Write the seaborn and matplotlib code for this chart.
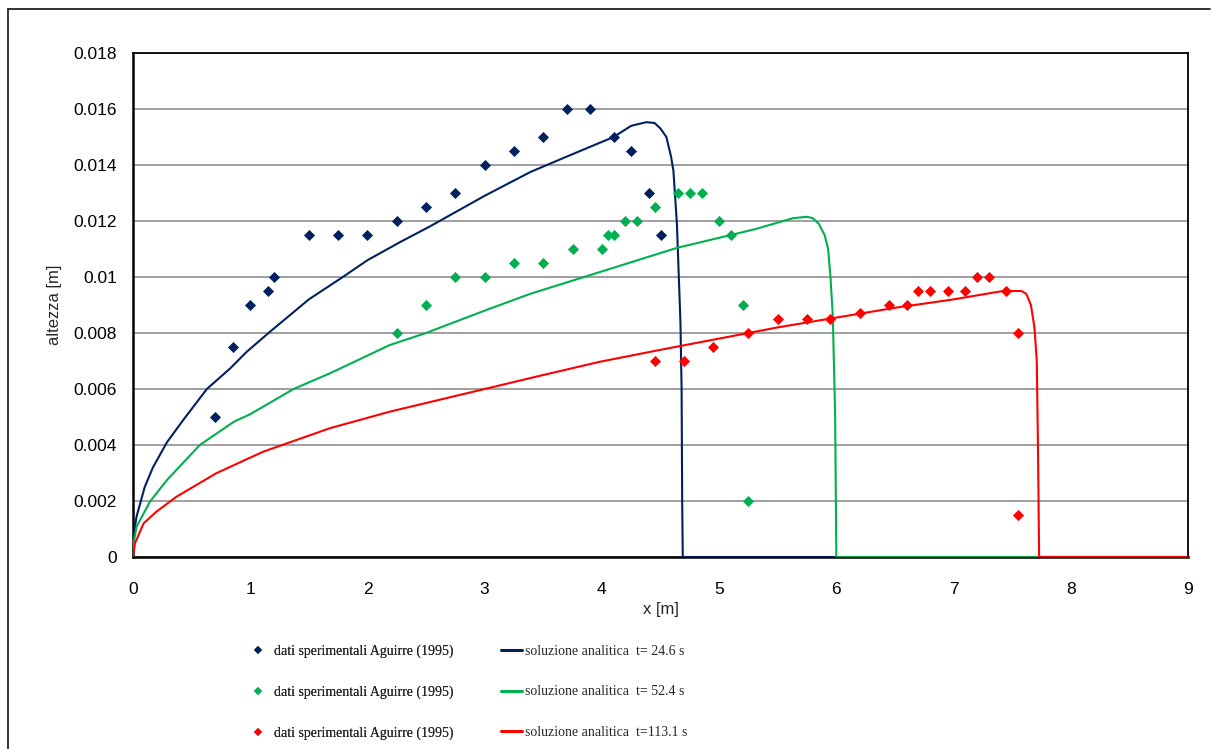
import numpy as np
import pandas as pd
import matplotlib
matplotlib.use("Agg")
import matplotlib.pyplot as plt
import matplotlib.font_manager as fm
from matplotlib.lines import Line2D
import seaborn as sns

# ---------------- data ----------------
# analytic solutions (x [m], altezza [m])
x_t246 = [0, 0.01, 0.03, 0.1, 0.17, 0.29, 0.43, 0.63, 0.83, 0.97, 1.17, 1.5, 1.79, 2.0,
          2.28, 2.53, 3.0, 3.39, 3.7, 4.1, 4.25, 4.38, 4.45, 4.5, 4.55, 4.59, 4.61,
          4.64, 4.67, 4.68, 4.685, 4.69, 9.0]
y_t246 = [0, 0.0009, 0.00144, 0.0025, 0.0032, 0.0041, 0.0049, 0.0060, 0.00674, 0.00733,
          0.00805, 0.0092, 0.0100, 0.0106, 0.01125, 0.0118, 0.0129, 0.01375, 0.0143,
          0.0150, 0.0154, 0.01553, 0.0155, 0.0153, 0.0150, 0.0143, 0.0138, 0.0119,
          0.0084, 0.0060, 0.0020, 0.0, 0.0]

x_t524 = [0, 0.01, 0.03, 0.145, 0.29, 0.57, 0.86, 1.0, 1.37, 1.68, 2.19, 2.5, 3.0, 3.39,
          4.0, 4.64, 5.0, 5.3, 5.63, 5.75, 5.8, 5.85, 5.9, 5.93, 5.95, 5.97, 5.99, 6.0,
          9.0]
y_t524 = [0, 0.0006, 0.00108, 0.00198, 0.00275, 0.0040, 0.00483, 0.0051, 0.0060,
          0.00656, 0.00757, 0.0080, 0.0088, 0.0094, 0.0102, 0.01104, 0.0114, 0.0117,
          0.0121, 0.01215, 0.0121, 0.0119, 0.0115, 0.0110, 0.0100, 0.0086, 0.0050, 0.0,
          0.0]

x_t1131 = [0, 0.017, 0.09, 0.2, 0.37, 0.71, 1.11, 1.68, 2.19, 2.5, 3.0, 3.5, 3.98, 4.5,
           5.0, 5.5, 5.97, 6.5, 7.0, 7.42, 7.58, 7.62, 7.66, 7.69, 7.71, 7.72, 7.73, 9.0]
y_t1131 = [0, 0.00049, 0.0012, 0.00162, 0.00215, 0.00299, 0.00376, 0.0046, 0.00519,
           0.0055, 0.0060, 0.0065, 0.00697, 0.0074, 0.0078, 0.0082, 0.00853, 0.0089,
           0.0092, 0.0095, 0.0095, 0.0094, 0.0090, 0.0082, 0.0070, 0.0040, 0.0, 0.0]

# experimental data (Aguirre 1995)
xe_1 = [0.7, 0.85, 1.0, 1.15, 1.2, 1.5, 1.75, 2.0, 2.25, 2.5, 2.75, 3.0, 3.25, 3.5,
        3.7, 3.9, 4.1, 4.25, 4.4, 4.5]
ye_1 = [0.005, 0.0075, 0.009, 0.0095, 0.01, 0.0115, 0.0115, 0.0115, 0.012, 0.0125,
        0.013, 0.014, 0.0145, 0.015, 0.016, 0.016, 0.015, 0.0145, 0.013, 0.0115]

xe_2 = [2.25, 2.5, 2.75, 3.0, 3.25, 3.5, 3.75, 4.0, 4.05, 4.1, 4.2, 4.3, 4.45, 4.65,
        4.75, 4.85, 5.0, 5.1, 5.2, 5.25]
ye_2 = [0.008, 0.009, 0.01, 0.01, 0.0105, 0.0105, 0.011, 0.011, 0.0115, 0.0115, 0.012,
        0.012, 0.0125, 0.013, 0.013, 0.013, 0.012, 0.0115, 0.009, 0.002]

xe_3 = [4.45, 4.7, 4.95, 5.25, 5.5, 5.75, 5.95, 6.2, 6.45, 6.6, 6.7, 6.8, 6.95, 7.1,
        7.2, 7.3, 7.45, 7.55, 7.55]
ye_3 = [0.007, 0.007, 0.0075, 0.008, 0.0085, 0.0085, 0.0085, 0.0087, 0.009, 0.009,
        0.0095, 0.0095, 0.0095, 0.0095, 0.01, 0.01, 0.0095, 0.008, 0.0015]

exp_label = "dati sperimentali Aguirre (1995)"
line_labels = ["soluzione analitica  t= 24.6 s",
               "soluzione analitica  t= 52.4 s",
               "soluzione analitica  t=113.1 s"]

x_ticks = list(range(0, 10))
y_ticks = [0, 0.002, 0.004, 0.006, 0.008, 0.01, 0.012, 0.014, 0.016, 0.018]
y_tick_labels = ["0", "0.002", "0.004", "0.006", "0.008", "0.01", "0.012", "0.014",
                 "0.016", "0.018"]

# ---------------- style ----------------
sns.set_style("white")
sans = "Liberation Sans"
plt.rcParams["font.family"] = [sans, "DejaVu Sans"]

NAVY = "#002060"
GREEN = "#00B050"
RED = "#FF0000"
colors = [NAVY, GREEN, RED]

W, H = 1213, 749
fig = plt.figure(figsize=(W / 100, H / 100), dpi=100)
ax = fig.add_axes([133 / W, 1 - 557 / H, (1188 - 133) / W, (557 - 53) / H])

lines_data = [(x_t246, y_t246), (x_t524, y_t524), (x_t1131, y_t1131)]
exp_data = [(xe_1, ye_1), (xe_2, ye_2), (xe_3, ye_3)]

for (xx, yy), c in zip(exp_data, colors):
    sns.scatterplot(x=xx, y=yy, ax=ax, color=c, marker="D", s=32, linewidth=0,
                    zorder=4, legend=False)
for (xx, yy), c in zip(lines_data, colors):
    sns.lineplot(x=xx, y=yy, ax=ax, color=c, lw=1.5, estimator=None, sort=False,
                 zorder=3, legend=False)

ax.set_xlim(0, 9)
ax.set_ylim(0, 0.018)
ax.set_xticks(x_ticks)
ax.set_xticklabels([str(t) for t in x_ticks])
ax.set_yticks(y_ticks)
ax.set_yticklabels(y_tick_labels)
ax.tick_params(axis="both", direction="out", length=4, width=1.2, color="black",
               labelsize=12.5, labelcolor="black")
ax.tick_params(axis="y", pad=7.5)
ax.tick_params(axis="x", pad=14)
ax.yaxis.grid(True, color="#999999", lw=1.3)
ax.xaxis.grid(False)
ax.set_axisbelow(True)
for side in ["left", "bottom", "top", "right"]:
    ax.spines[side].set_visible(True)
    ax.spines[side].set_color("black")
ax.spines["left"].set_linewidth(1.8)
ax.spines["bottom"].set_linewidth(1.8)
ax.spines["top"].set_linewidth(1.3)
ax.spines["right"].set_linewidth(1.3)

ax.set_xlabel("x [m]", fontsize=12, labelpad=3.5)
ax.set_ylabel("altezza [m]", fontsize=12, labelpad=8)

# ---------------- legend ----------------
leg_font = {"family": ["Liberation Serif", "DejaVu Serif"], "size": 10}
h_exp = [Line2D([], [], ls="none", marker="D", markersize=4.2, color=c,
                markeredgewidth=0) for c in colors]
h_lin = [Line2D([], [], color=c, lw=2.2) for c in colors]

leg1 = fig.legend(h_exp, [exp_label] * 3, loc="upper left",
                  bbox_to_anchor=(248 / W, 1 - 645 / H), frameon=False,
                  prop=leg_font, borderpad=0, borderaxespad=0, handlelength=1.44,
                  handletextpad=0.4, labelspacing=1.97)
leg2 = fig.legend(h_lin, line_labels, loc="upper left",
                  bbox_to_anchor=(501 / W, 1 - 645 / H), frameon=False,
                  prop=leg_font, borderpad=0, borderaxespad=0, handlelength=1.5,
                  handletextpad=0.2, labelspacing=1.97)
fig.add_artist(leg1)

# ---------------- outer frame ----------------
fig.add_artist(Line2D([8 / W, 8 / W], [0, 1 - 9 / H], transform=fig.transFigure,
                      color="#222222", lw=1.3))
fig.add_artist(Line2D([8 / W, 1210 / W], [1 - 9 / H, 1 - 9 / H],
                      transform=fig.transFigure, color="#222222", lw=1.3))

fig.savefig("out.png", dpi=100)
